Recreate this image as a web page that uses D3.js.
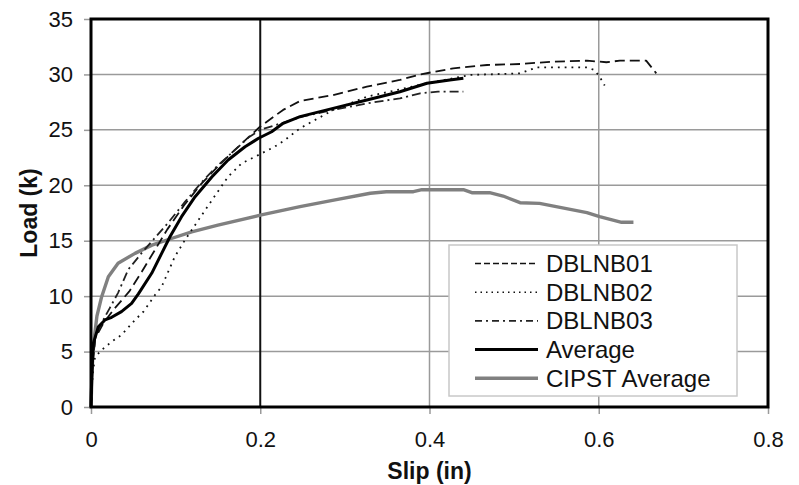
<!DOCTYPE html>
<html>
  <head>
    <meta charset="utf-8">
    <title>Load vs Slip</title>
    <script src="https://d3js.org/d3.v7.min.js"></script>
    <style>
      body { margin: 0; background: #fff; }
      text { font-family: Arial, "Liberation Sans", sans-serif; fill: #111; }
    </style>
  </head>
  <body>
    <div id="chart"></div>
    <script>
      // Tick values
      const xTicks = [0, 0.2, 0.4, 0.6, 0.8];
      const yTicks = [0, 5, 10, 15, 20, 25, 30, 35];

      // Series: [slip (in), load (k)]
      const dblnb01 = [[0,0],[0.002,4],[0.005,6.2],[0.015,7.6],[0.028,8.9],[0.045,10.4],[0.06,12.2],[0.075,14.1],[0.09,16.0],[0.11,18.2],[0.13,20.1],[0.15,21.7],[0.17,23.2],[0.2,25.3],[0.227,26.8],[0.247,27.6],[0.286,28.14],[0.326,28.9],[0.365,29.5],[0.389,30.0],[0.428,30.55],[0.468,30.85],[0.507,30.94],[0.546,31.15],[0.586,31.24],[0.609,31.1],[0.625,31.24],[0.656,31.24],[0.668,30.1]];
      const dblnb02 = [[0,0],[0.002,3],[0.0047,4.5],[0.0126,5.14],[0.0244,5.89],[0.036,6.5],[0.052,7.85],[0.062,8.6],[0.0756,10.1],[0.0835,10.85],[0.099,13.56],[0.111,15.06],[0.127,16.87],[0.143,18.67],[0.162,20.77],[0.178,21.98],[0.194,22.58],[0.217,23.48],[0.229,24.08],[0.247,25.14],[0.286,26.79],[0.326,27.99],[0.397,29.2],[0.448,29.95],[0.507,30.1],[0.527,30.64],[0.586,30.64],[0.595,30.4],[0.601,29.8],[0.607,29.0]];
      const dblnb03 = [[0,0],[0.002,4.5],[0.006,6.5],[0.0126,7.6],[0.022,8.9],[0.032,10.3],[0.044,12.4],[0.06,13.9],[0.076,15.3],[0.091,16.6],[0.111,18.5],[0.131,20.3],[0.15,21.8],[0.166,22.9],[0.186,24.3],[0.2,25.0],[0.25,26.2],[0.274,26.6],[0.3,27.0],[0.326,27.39],[0.365,27.84],[0.389,28.3],[0.41,28.44],[0.44,28.44]];
      const average = [[0,0],[0.001,3],[0.0027,5.74],[0.0087,7.24],[0.0165,7.85],[0.0244,8.09],[0.036,8.6],[0.048,9.35],[0.056,10.2],[0.0717,12.06],[0.0835,13.86],[0.0933,15.36],[0.107,17.17],[0.123,18.97],[0.143,20.77],[0.162,22.28],[0.182,23.48],[0.198,24.24],[0.2135,24.83],[0.227,25.59],[0.247,26.19],[0.286,26.94],[0.326,27.69],[0.365,28.44],[0.397,29.2],[0.424,29.5],[0.44,29.65]];
      const cipstAverage = [[0,0],[0.001,2.5],[0.002,4.5],[0.004,6.3],[0.007,8.2],[0.0126,9.95],[0.0205,11.75],[0.032,12.96],[0.052,13.86],[0.072,14.6],[0.095,15.2],[0.119,15.8],[0.15,16.4],[0.2,17.3],[0.247,18.07],[0.29,18.7],[0.33,19.28],[0.349,19.42],[0.381,19.42],[0.391,19.6],[0.44,19.6],[0.45,19.33],[0.471,19.33],[0.487,19.03],[0.507,18.43],[0.53,18.37],[0.586,17.53],[0.601,17.17],[0.627,16.66],[0.641,16.66]];

      const seriesNames = ["DBLNB01", "DBLNB02", "DBLNB03", "Average", "CIPST Average"];
      const seriesData = [dblnb01, dblnb02, dblnb03, average, cipstAverage];

      // Styles per series
      const styles = [
        {color: "#111", width: 1.8, dash: "10,5", legendDash: "6,3"},
        {color: "#111", width: 1.8, dash: "1.8,5", legendDash: "1.5,4"},
        {color: "#222", width: 1.8, dash: "9,4,2,4", legendDash: "7,4,2,4"},
        {color: "#000", width: 3, dash: null, legendDash: null},
        {color: "#808080", width: 3.4, dash: null, legendDash: null}
      ];

      const W = 799, H = 485;
      const margin = {top: 19, right: 31, bottom: 78, left: 91};
      const width = W - margin.left - margin.right;
      const height = H - margin.top - margin.bottom;

      const x = d3.scaleLinear().domain([0, 0.8]).range([0, width]);
      const y = d3.scaleLinear().domain([0, 35]).range([height, 0]);

      const svg = d3.select("#chart")
        .append("svg")
        .attr("width", W)
        .attr("height", H);

      const g = svg.append("g")
        .attr("transform", `translate(${margin.left},${margin.top})`);

      // Gridlines
      g.append("g")
        .selectAll("line")
        .data(yTicks.slice(1, -1))
        .join("line")
        .attr("x1", 0).attr("x2", width)
        .attr("y1", d => y(d)).attr("y2", d => y(d))
        .attr("stroke", "#9a9a9a").attr("stroke-width", 1.5);
      g.append("g")
        .selectAll("line")
        .data(xTicks.slice(1, -1))
        .join("line")
        .attr("x1", d => x(d)).attr("x2", d => x(d))
        .attr("y1", 0).attr("y2", height)
        .attr("stroke", d => d === 0.2 ? "#111" : "#9a9a9a")
        .attr("stroke-width", d => d === 0.2 ? 2 : 1.5);

      // Axes
      const yAxis = d3.axisLeft(y).tickValues(yTicks).tickSize(7).tickPadding(11);
      const xAxis = d3.axisBottom(x).tickValues(xTicks).tickSize(7).tickPadding(17)
        .tickFormat(d => String(d));

      const yg = g.append("g").call(yAxis);
      const xg = g.append("g").attr("transform", `translate(0,${height})`).call(xAxis);
      [yg, xg].forEach(a => {
        a.select(".domain").remove();
        a.selectAll(".tick line").attr("stroke", "#9a9a9a").attr("stroke-width", 1.5);
        a.selectAll(".tick text")
          .style("font-family", "Arial, 'Liberation Sans', sans-serif")
          .style("font-size", "22px")
          .attr("fill", "#111");
      });

      // Series
      const line = d3.line()
        .x(d => x(d[0]))
        .y(d => y(d[1]));

      const order = [4, 1, 0, 2, 3];
      order.forEach(i => {
        g.append("path")
          .datum(seriesData[i])
          .attr("fill", "none")
          .attr("stroke", styles[i].color)
          .attr("stroke-width", styles[i].width)
          .attr("stroke-dasharray", styles[i].dash)
          .attr("stroke-linejoin", "round")
          .attr("d", line);
      });

      // Plot frame
      g.append("rect")
        .attr("width", width).attr("height", height)
        .attr("fill", "none")
        .attr("stroke", "#000")
        .attr("stroke-width", 3);

      // Legend
      const lg = svg.append("g").attr("transform", "translate(449,245)");
      lg.append("rect")
        .attr("width", 288).attr("height", 151)
        .attr("fill", "#fff")
        .attr("stroke", "#c8c8c8")
        .attr("stroke-width", 1.5);
      const rows = lg.selectAll("g.row")
        .data(seriesNames)
        .join("g")
        .attr("class", "row")
        .attr("transform", (d, i) => `translate(0,${18.5 + i * 28.7})`);
      rows.append("line")
        .attr("x1", 26).attr("x2", 89)
        .attr("stroke", (d, i) => styles[i].color)
        .attr("stroke-width", (d, i) => i < 3 ? 1.6 : styles[i].width)
        .attr("stroke-dasharray", (d, i) => styles[i].legendDash);
      rows.append("text")
        .attr("x", 97)
        .attr("y", 8.5)
        .style("font-size", "24px")
        .text(d => d);

      // Axis titles
      svg.append("text")
        .attr("x", margin.left + x(0.4))
        .attr("y", 479)
        .attr("text-anchor", "middle")
        .style("font-size", "23px")
        .style("font-weight", "bold")
        .text("Slip (in)");
      svg.append("text")
        .attr("transform", `translate(37,${margin.top + y(17.5)}) rotate(-90)`)
        .attr("text-anchor", "middle")
        .style("font-size", "23px")
        .style("font-weight", "bold")
        .text("Load (k)");
    </script>
  </body>
</html>
